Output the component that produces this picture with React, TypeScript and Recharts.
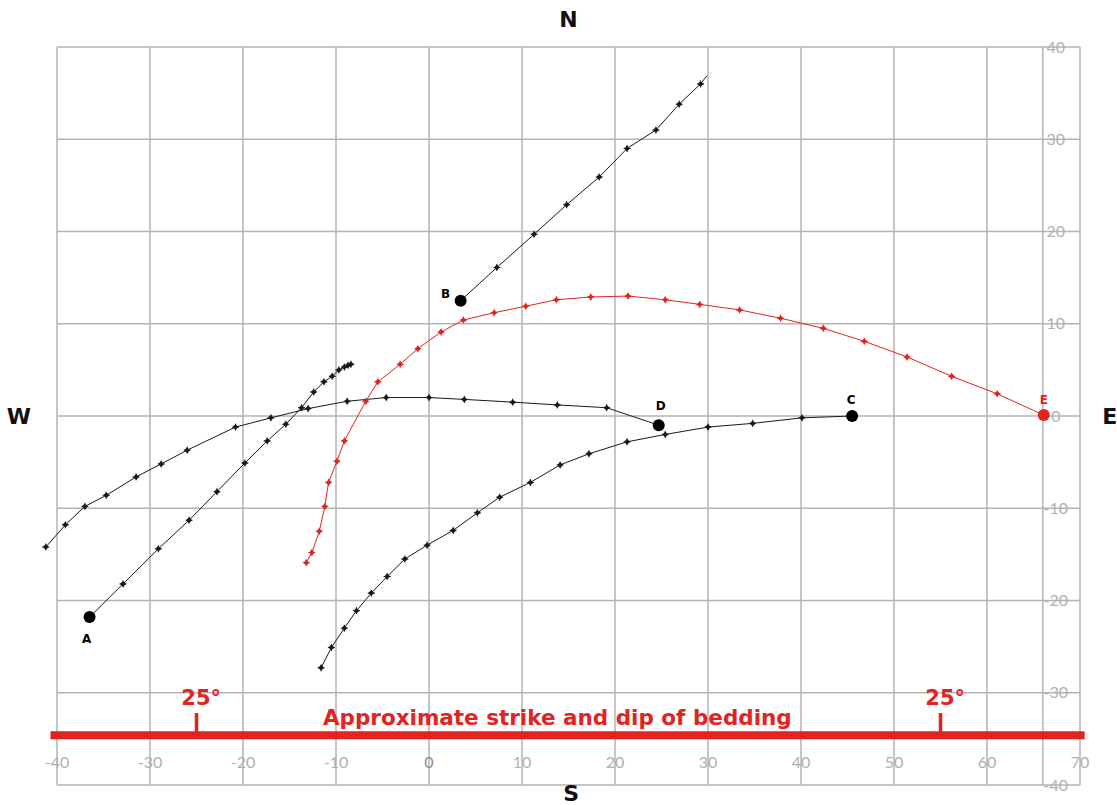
import React from "react";
import {
  ReferenceDot,
  ReferenceLine,
  Scatter,
  ScatterChart,
  XAxis,
  YAxis,
} from "recharts";

// tick labels
const xTicks = [-40, -30, -20, -10, 0, 10, 20, 30, 40, 50, 60, 70];
const yTicks = [-40, -30, -20, -10, 0, 10, 20, 30, 40];

// traces, [east, north]
const traceA: [number, number][] = [
  [-36.5, -21.8], [-32.9, -18.2], [-29.1, -14.4], [-25.8, -11.3], [-22.8, -8.2],
  [-19.8, -5.1], [-17.4, -2.7], [-15.4, -0.9], [-13.7, 0.9], [-12.4, 2.6],
  [-11.3, 3.7], [-10.4, 4.3], [-9.7, 5.0], [-9.1, 5.3], [-8.7, 5.5], [-8.4, 5.6],
];
const traceB: [number, number][] = [
  [3.4, 12.5], [7.3, 16.1], [11.3, 19.7], [14.8, 22.9], [18.3, 25.9],
  [21.3, 29.0], [24.4, 31.0], [26.9, 33.8], [29.2, 36.0],
];
const traceBTail: [number, number][] = [[29.2, 36.0], [29.9, 36.9]];
const traceC: [number, number][] = [
  [-11.6, -27.3], [-10.5, -25.1], [-9.1, -23.0], [-7.8, -21.1], [-6.2, -19.2],
  [-4.5, -17.4], [-2.6, -15.5], [-0.2, -14.0], [2.6, -12.4], [5.2, -10.5],
  [7.6, -8.8], [10.9, -7.2], [14.1, -5.3], [17.2, -4.1], [21.3, -2.8],
  [25.4, -2.0], [30.0, -1.2], [34.8, -0.8], [40.1, -0.2], [45.5, 0],
];
const traceD: [number, number][] = [
  [-41.2, -14.2], [-39.1, -11.8], [-37.0, -9.8], [-34.7, -8.6], [-31.5, -6.6],
  [-28.8, -5.2], [-26.0, -3.7], [-20.8, -1.2], [-17.0, -0.2], [-13.0, 0.8],
  [-8.8, 1.6], [-4.6, 2.0], [0, 2.0], [3.8, 1.8], [9.0, 1.5], [13.8, 1.2],
  [19.1, 0.9], [24.7, -1.0],
];
const traceE: [number, number][] = [
  [-13.2, -15.9], [-12.6, -14.8], [-11.8, -12.5], [-11.2, -9.8], [-10.8, -7.2],
  [-9.9, -4.9], [-9.1, -2.7], [-6.8, 1.6], [-5.5, 3.7], [-3.1, 5.6],
  [-1.2, 7.3], [1.3, 9.1], [3.7, 10.4], [7.0, 11.2], [10.4, 11.9],
  [13.7, 12.6], [17.4, 12.9], [21.4, 13.0], [25.4, 12.6], [29.1, 12.1],
  [33.4, 11.5], [37.8, 10.6], [42.4, 9.5], [46.8, 8.1], [51.4, 6.4],
  [56.2, 4.3], [61.1, 2.4], [66.1, 0.1],
];

// end stations
const endNames = ["A", "B", "C", "D", "E"];
const endX = [-36.5, 3.4, 45.5, 24.7, 66.1];
const endY = [-21.8, 12.5, 0, -1.0, 0.1];

// bedding
const beddingY = -34.6;
const dipTicks = [-25, 55];
const dipLabel = "25°";

const BLACK = "#1a1a1a";
const RED = "#e2231f";
const GRID = "#b3b3b3";
const TICKTXT = "#b0b0b0";

const toPts = (arr: [number, number][]) => arr.map(([x, y]) => ({ x, y }));

const labelOffset: Record<string, { dx: number; dy: number }> = {
  A: { dx: -3, dy: 22 },
  B: { dx: -15, dy: -7 },
  C: { dx: -1, dy: -16 },
  D: { dx: 2, dy: -19 },
  E: { dx: 0, dy: -15 },
};

const marker = (color: string) => (p: any) => {
  const { cx, cy } = p;
  if (cx == null || cy == null) return <g />;
  return (
    <g>
      <path
        d={`M${cx - 3},${cy}L${cx},${cy - 3}L${cx + 3},${cy}L${cx},${cy + 3}Z`}
        fill={color}
      />
      <path
        d={`M${cx - 3.5},${cy}H${cx + 3.5}M${cx},${cy - 3.5}V${cy + 3.5}`}
        stroke={color}
        strokeWidth={1}
      />
    </g>
  );
};

const noMark = () => <g />;

const endShape = (p: any) => {
  const { cx, cy, payload } = p;
  const color = payload.name === "E" ? RED : "#000";
  const off = labelOffset[payload.name];
  return (
    <g>
      <circle cx={cx} cy={cy} r={6} fill={color} />
      <text
        x={cx + off.dx}
        y={cy + off.dy}
        textAnchor="middle"
        dominantBaseline="central"
        fontFamily="'DejaVu Sans', sans-serif"
        fontWeight="bold"
        fontSize={12}
        fill={color}
      >
        {payload.name}
      </text>
    </g>
  );
};

const compass = [
  { t: "N", x: 15, y: 43 },
  { t: "S", x: 15.3, y: -40.9 },
  { t: "W", x: -44.1, y: 0 },
  { t: "E", x: 73.2, y: 0 },
];

const tickFont = {
  fill: TICKTXT,
  fontSize: 16,
  fontFamily: "Lato, 'DejaVu Sans', sans-serif",
};

export default function App() {
  const ends = endNames.map((name, i) => ({ name, x: endX[i], y: endY[i] }));
  const series = [
    { key: "A", data: toPts(traceA), color: BLACK },
    { key: "B", data: toPts(traceB), color: BLACK },
    { key: "C", data: toPts(traceC), color: BLACK },
    { key: "D", data: toPts(traceD), color: BLACK },
    { key: "E", data: toPts(traceE), color: RED },
  ];
  const xMin = xTicks[0];
  const xMax = xTicks[xTicks.length - 1];
  const yMin = yTicks[0];
  const yMax = yTicks[yTicks.length - 1];

  return (
    <div style={{ position: "absolute", left: 0, top: 0, background: "#fff" }}>
      <ScatterChart
        width={1117}
        height={805}
        margin={{ top: 47, right: 37, bottom: 20, left: 38.4 }}
      >
        <XAxis type="number" dataKey="x" domain={[-42, 70]} hide />
        <YAxis type="number" dataKey="y" domain={[-40, 40]} hide />

        {/* grid */}
        {yTicks.map((v) => (
          <ReferenceLine
            key={"h" + v}
            segment={[
              { x: xMin, y: v },
              { x: xMax, y: v },
            ]}
            stroke={GRID}
            strokeWidth={1.5}
          />
        ))}
        {[...xTicks, 66].map((v) => (
          <ReferenceLine
            key={"v" + v}
            segment={[
              { x: v, y: yMin },
              { x: v, y: yMax },
            ]}
            stroke={GRID}
            strokeWidth={1.5}
          />
        ))}

        {/* tick labels */}
        {xTicks.map((v) => (
          <ReferenceDot
            key={"xt" + v}
            x={v}
            y={-37.5}
            r={0}
            fill="none"
            stroke="none"
            label={{
              value: v,
              position: "center",
              ...tickFont,
              fill: v === 0 ? "#8c8c8c" : TICKTXT,
            }}
          />
        ))}
        {yTicks.map((v) => (
          <ReferenceDot
            key={"yt" + v}
            x={67.4}
            y={v}
            r={0}
            fill="none"
            stroke="none"
            label={{ value: v, position: "center", ...tickFont }}
          />
        ))}

        {/* bedding */}
        <ReferenceLine
          segment={[
            { x: -40.7, y: beddingY },
            { x: 70.5, y: beddingY },
          ]}
          stroke={RED}
          strokeWidth={8}
          ifOverflow="visible"
        />
        {dipTicks.map((dx) => (
          <ReferenceLine
            key={dx}
            segment={[
              { x: dx, y: beddingY },
              { x: dx, y: beddingY + 2.4 },
            ]}
            stroke={RED}
            strokeWidth={3.5}
          />
        ))}
        {dipTicks.map((dx) => (
          <ReferenceDot
            key={"l" + dx}
            x={dx + 0.5}
            y={beddingY + 4.1}
            r={0}
            fill="none"
            stroke="none"
            label={{
              value: dipLabel,
              position: "center",
              fill: RED,
              fontSize: 21,
              fontWeight: "bold",
              fontFamily: "'DejaVu Sans', sans-serif",
            }}
          />
        ))}
        <ReferenceDot
          x={13.8}
          y={beddingY + 1.9}
          r={0}
          fill="none"
          stroke="none"
          label={{
            value: "Approximate strike and dip of bedding",
            position: "center",
            fill: RED,
            fontSize: 21.5,
            fontWeight: "bold",
            fontFamily: "'DejaVu Sans', sans-serif",
          }}
        />

        {series.map((s) => (
          <Scatter
            key={s.key}
            data={s.data}
            line={{ stroke: s.color, strokeWidth: 1 }}
            lineType="joint"
            shape={marker(s.color)}
            isAnimationActive={false}
          />
        ))}
        <Scatter
          data={toPts(traceBTail)}
          line={{ stroke: BLACK, strokeWidth: 1 }}
          lineType="joint"
          shape={noMark}
          isAnimationActive={false}
        />
        <Scatter data={ends} shape={endShape} isAnimationActive={false} />

        {compass.map((c) => (
          <ReferenceDot
            key={c.t}
            x={c.x}
            y={c.y}
            r={0}
            fill="none"
            stroke="none"
            ifOverflow="visible"
            label={{
              value: c.t,
              position: "center",
              fill: "#111",
              fontSize: 22,
              fontWeight: "bold",
              fontFamily: "'DejaVu Sans', sans-serif",
            }}
          />
        ))}
      </ScatterChart>
    </div>
  );
}
